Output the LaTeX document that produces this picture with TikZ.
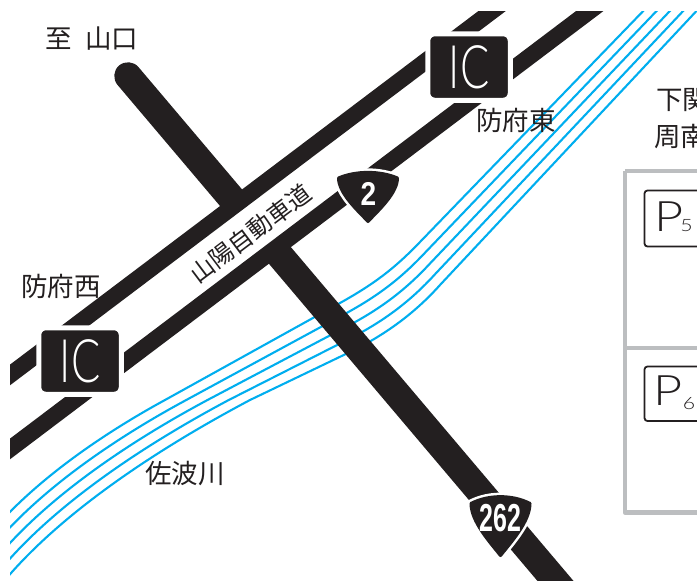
\documentclass[tikz,border=0pt]{standalone}
\usepackage{fontspec}
\usetikzlibrary{calc}
\setmainfont{Noto Sans CJK JP}
\newfontfamily\lightf{Lato Light}
\newfontfamily\boldf{Liberation Sans}[BoldFont=*-Bold]
\definecolor{roadk}{HTML}{231F20}
\definecolor{riverb}{HTML}{00AEEF}
\definecolor{panelg}{HTML}{BCBEC0}
\tikzset{
  exway/.style={draw=roadk,line width=16.5pt},
  natroad/.style={draw=roadk,line width=27.5pt,line cap=round},
  gapband/.style={draw=white,line width=44pt},
  river/.style={draw=riverb,line width=2.1pt},
  jlabel/.style={font=\fontsize{26.5}{26.5}\selectfont,text=roadk,inner sep=0pt},
  icbox/.style={fill=roadk,draw=white,line width=5pt,rounded corners=7pt,minimum width=82.5pt,minimum height=66.5pt,inner sep=0pt,text=white,font=\lightf\fontsize{60}{60}\selectfont},
  panel/.style={draw=panelg,line width=4.5pt,line join=round},
  pbox/.style={draw=roadk,line width=1.8pt,rounded corners=3pt},
  pmark/.style={inner sep=0pt,text=roadk,font=\lightf\fontsize{42}{42}\selectfont},
  psub/.style={inner sep=0pt,text=roadk,font=\lightf\fontsize{17}{17}\selectfont},
  shieldnum/.style={inner sep=0pt,text=white,font=\boldf\bfseries},
}
\newcommand{\rshield}[3]{%
  \begin{scope}[shift={(#1,#2)},yscale=#3]
    \path[draw=white,line width=8pt,line join=round]
      (-29.5,7) .. controls (-12,-0.5) and (12,-0.5) .. (29.5,7)
      .. controls (29.5,22) and (11,39) .. (0,50.5)
      .. controls (-11,39) and (-29.5,22) .. (-29.5,7) -- cycle;
    \path[fill=roadk,draw=roadk,line width=3pt,line join=round]
      (-29.5,7) .. controls (-12,-0.5) and (12,-0.5) .. (29.5,7)
      .. controls (29.5,22) and (11,39) .. (0,50.5)
      .. controls (-11,39) and (-29.5,22) .. (-29.5,7) -- cycle;
  \end{scope}}
\begin{document}
\begin{tikzpicture}[x=1pt,y=-1pt]
\useasboundingbox (0,0) rectangle (697,581);
\fill[white] (0,0) rectangle (697,581);
\clip (0,0) rectangle (697,581);
\coordinate (ua) at (0,382.5);
\coordinate (ub) at (510,-2.5);
\coordinate (la) at (0,456.5);
\coordinate (lb) at (607,-2);
\coordinate (ga) at (150,306);
\coordinate (gb) at (350,155);
\coordinate (na) at (128,76);
\coordinate (nb) at (564,591);
\coordinate (A1) at (5,517);   \coordinate (A5) at (5,580);
\coordinate (B1) at (50,470);  \coordinate (B5) at (60,515);
\coordinate (C1) at (110,430); \coordinate (C5) at (150,453);
\coordinate (D1) at (165,400); \coordinate (D5) at (250,400);
\coordinate (E1) at (340,303); \coordinate (E5) at (350,352);
\coordinate (F1) at (375,283.5); \coordinate (F5) at (385,335);
\coordinate (G1) at (395,268); \coordinate (G5) at (415,313);
\coordinate (H1) at (420,242); \coordinate (H5) at (440,285);
\coordinate (I1) at (650,4);   \coordinate (I5) at (703,4);
\begin{scope}
  \clip (10,11) rectangle (697,581);
  \foreach \t in {0,0.25,0.5,0.75,1}
    \draw[river] ($(A1)!\t!(A5)$) .. controls ($(B1)!\t!(B5)$) and ($(C1)!\t!(C5)$) .. ($(D1)!\t!(D5)$)
      -- ($(E1)!\t!(E5)$) .. controls ($(F1)!\t!(F5)$) and ($(G1)!\t!(G5)$) .. ($(H1)!\t!(H5)$)
      -- ($(I1)!\t!(I5)$);
  \draw[natroad] (na) -- (nb);
  \draw[gapband] (ga) -- (gb);
  \draw[exway] (ua) -- (ub);
  \draw[exway] (la) -- (lb);
\end{scope}
\rshield{368}{171}{1}
\node[shieldnum,font=\boldf\bfseries\fontsize{33}{33}\selectfont] (n2) at (368.5,194) {\scalebox{.85}[1]{2}};
\rshield{500.5}{495}{1.2}
\node[shieldnum,font=\boldf\bfseries\fontsize{39}{39}\selectfont] (n262) at (500.5,518.5) {\scalebox{.64}[1]{262}};
\node[icbox] (ic1) at (469,67) {\scalebox{.72}[1]{IC}};
\node[icbox] (ic2) at (80,361) {\scalebox{.72}[1]{IC}};
\node[jlabel] (tsan) at (92,39) {至\hspace{.48em}山口};
\node[jlabel] (thf) at (516,120) {防府東};
\node[jlabel] (thw) at (61,286) {防府西};
\node[jlabel] (tsa) at (185,474) {佐波川};
\node[jlabel,rotate=37,font=\fontsize{24}{24}\selectfont] (tex) at (250.5,233.5) {山陽自動車道};
\node[jlabel,anchor=west] (tsh) at (656,100) {下関};
\node[jlabel,anchor=west] (tsu) at (654,137) {周南};
\draw[panel] (625,171) -- (705,171) (625,348) -- (705,348) (705,512.5) -- (625,512.5) -- (625,171);
\draw[pbox] (644.5,190.5) rectangle (710,246.5);
\draw[pbox] (644.5,366.5) rectangle (710,421);
\node[pmark] (p5) at (669.5,217) {\scalebox{1.2}[1]{P}};
\node[psub] (s5) at (686.5,226) {\scalebox{1.25}[1]{5}};
\node[pmark] (p6) at (668,391) {\scalebox{1.2}[1]{P}};
\node[psub] (s6) at (689,403.5) {\scalebox{1.25}[1]{6}};
\end{tikzpicture}
\end{document}
